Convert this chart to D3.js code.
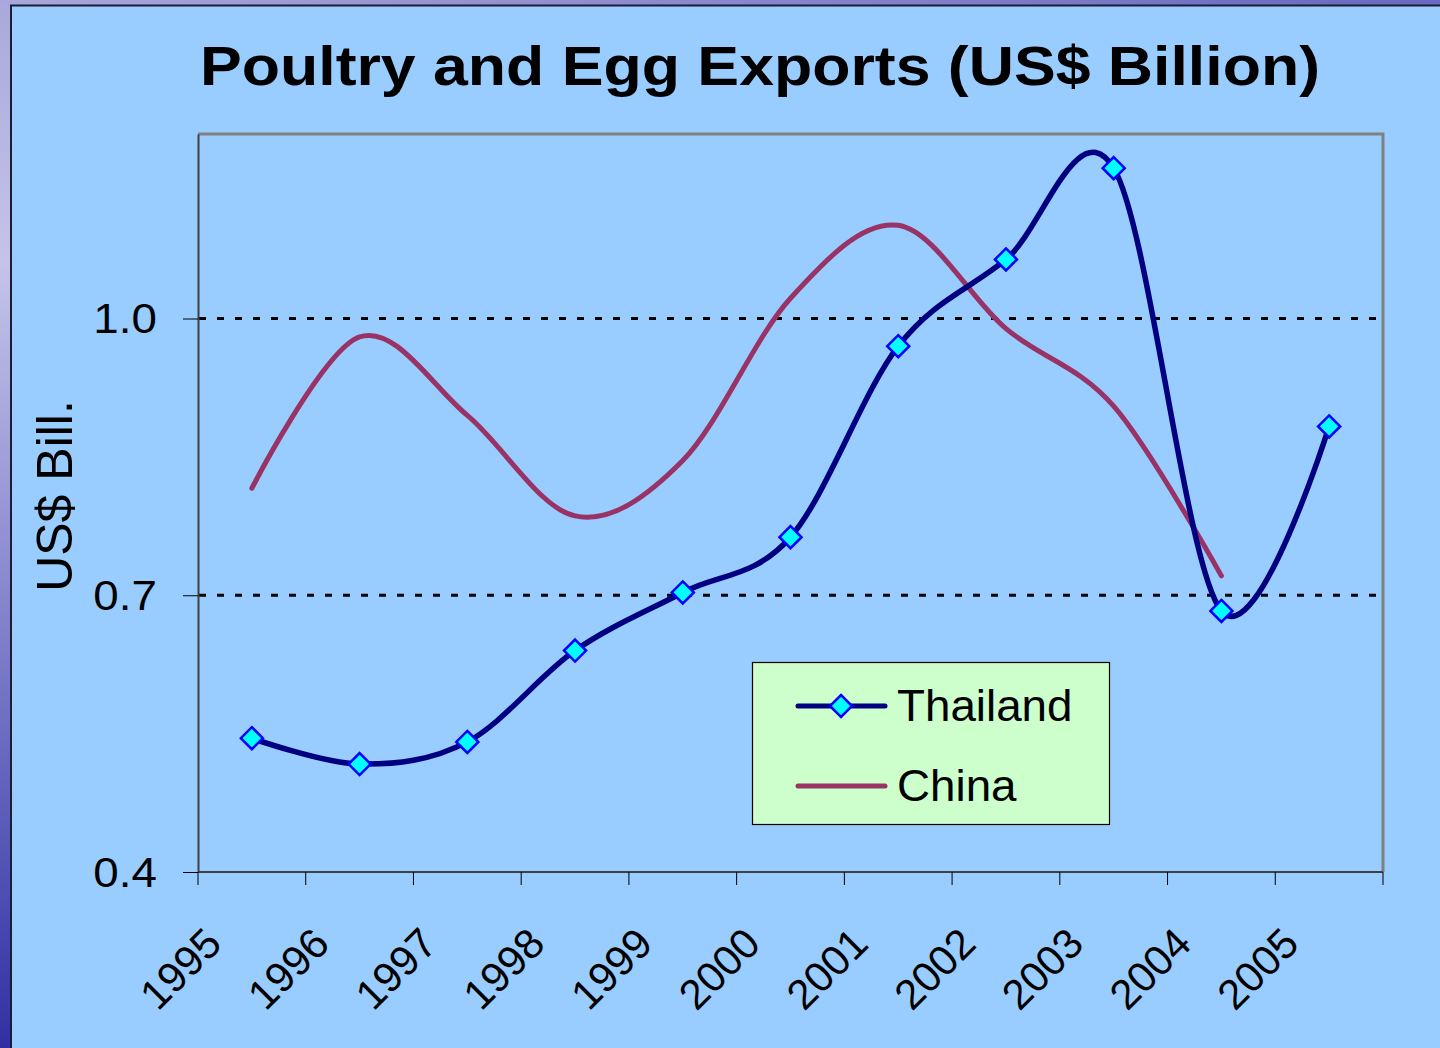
<!DOCTYPE html>
<html>
<head>
  <title>Poultry and Egg Exports</title>
  <script src="https://d3js.org/d3.v7.min.js"></script>
  <style>
    body { margin: 0; background: #99ccff; }
    text { font-family: "Liberation Sans", Arial, sans-serif; fill: #000; }
  </style>
</head>
<body>
<script type="text/javascript">

// ****** DATA ******

  var years = ["1995", "1996", "1997", "1998", "1999", "2000", "2001", "2002", "2003", "2004", "2005"];
  // Thailand exports, US$ billion
  var thailand = [0.545, 0.517, 0.541, 0.640, 0.703, 0.763, 0.970, 1.064, 1.163, 0.683, 0.883];
  // China has no value for 2005
  var china = [0.816, 0.980, 0.895, 0.786, 0.846, 1.022, 1.101, 0.989, 0.905, 0.721];
  var yTicks = [0.4, 0.7, 1.0];
  var seriesNames = ["Thailand", "China"];

// ****** SIZES ******

  var width = 1440,
      height = 1048;
  var plot = { left: 198, right: 1383, top: 134, bottom: 872 };

  var svg = d3.select("body")
    .append("svg")
    .attr("width", width)
    .attr("height", height);

  var defs = svg.append("defs");
  var sideGrad = defs.append("linearGradient")
    .attr("id", "side").attr("x1", 0).attr("y1", 0).attr("x2", 0).attr("y2", 1);
  sideGrad.append("stop").attr("offset", "0%").attr("stop-color", "#a8a8dc");
  sideGrad.append("stop").attr("offset", "25%").attr("stop-color", "#c4c4ea");
  sideGrad.append("stop").attr("offset", "55%").attr("stop-color", "#8a8ad0");
  sideGrad.append("stop").attr("offset", "100%").attr("stop-color", "#3030a4");
  var topGrad = defs.append("linearGradient")
    .attr("id", "topstrip").attr("x1", 0).attr("y1", 0).attr("x2", 1).attr("y2", 0);
  topGrad.append("stop").attr("offset", "0%").attr("stop-color", "#a8a8dc");
  topGrad.append("stop").attr("offset", "100%").attr("stop-color", "#6868c0");

  // slide frame: textured strips on the left and top
  svg.append("rect").attr("width", width).attr("height", height).attr("fill", "url(#side)");
  svg.append("rect").attr("width", width).attr("height", 6).attr("fill", "url(#topstrip)");
  svg.append("rect")
    .attr("x", 11).attr("y", 6)
    .attr("width", width - 11).attr("height", height - 6)
    .attr("fill", "#99ccff");
  svg.append("path")
    .attr("d", "M11," + height + "V5.5H" + width)
    .attr("fill", "none")
    .attr("stroke", "#1c1c34")
    .attr("stroke-width", 2);

// ****** SCALES ******

  var x = d3.scaleBand()
    .domain(years)
    .range([plot.left, plot.right])
    .padding(0);
  var bw = x.bandwidth();
  function cx(i) { return x(years[i]) + bw / 2; }

  var y = d3.scaleLinear()
    .domain([0.4, 1.2])
    .range([plot.bottom, plot.top]);

// ****** TITLE ******

  svg.append("text")
    .attr("x", 760)
    .attr("y", 85)
    .attr("text-anchor", "middle")
    .attr("font-size", 56)
    .attr("font-weight", "bold")
    .attr("textLength", 1120)
    .attr("lengthAdjust", "spacingAndGlyphs")
    .text("Poultry and Egg Exports (US$ Billion)");

// ****** GRID AND FRAME ******

  svg.selectAll(".grid")
    .data([0.7, 1.0])
    .enter()
    .append("line")
    .attr("class", "grid")
    .attr("x1", plot.left + 1).attr("x2", plot.right - 2)
    .attr("y1", function (d) { return y(d); })
    .attr("y2", function (d) { return y(d); })
    .attr("stroke", "#000")
    .attr("stroke-width", 3)
    .attr("stroke-dasharray", "7 11");

  // gray top and right border of the plot area
  svg.append("path")
    .attr("d", "M" + plot.left + "," + plot.top + "H" + plot.right + "V" + plot.bottom)
    .attr("fill", "none")
    .attr("stroke", "#808080")
    .attr("stroke-width", 3);

// ****** AXES ******

  var yAxis = svg.append("g")
    .attr("transform", "translate(" + plot.left + ",0)")
    .call(d3.axisLeft(y).tickValues(yTicks).tickSize(15).tickSizeOuter(0).tickFormat(d3.format(".1f")));
  yAxis.select(".domain").attr("stroke", "#404040").attr("stroke-width", 2);
  yAxis.selectAll(".tick line").attr("stroke", "#000").attr("stroke-width", 1);
  yAxis.selectAll(".tick text")
    .attr("x", null)
    .attr("dy", null)
    .attr("transform", "translate(-41,14) scale(1.09,1)")
    .attr("font-size", 42)
    .attr("font-family", "'Liberation Sans', Arial, sans-serif")
    .attr("fill", "#000");

  // x axis: ticks on category boundaries, labels at the centres
  svg.append("line")
    .attr("x1", plot.left).attr("x2", plot.right)
    .attr("y1", plot.bottom).attr("y2", plot.bottom)
    .attr("stroke", "#404040")
    .attr("stroke-width", 2);

  var edges = years.map(function (d) { return x(d); }).concat([plot.right]);
  svg.selectAll(".xtick")
    .data(edges)
    .enter()
    .append("line")
    .attr("class", "xtick")
    .attr("x1", function (d) { return d; })
    .attr("x2", function (d) { return d; })
    .attr("y1", plot.bottom)
    .attr("y2", plot.bottom + 13)
    .attr("stroke", "#000")
    .attr("stroke-width", 1);

  svg.selectAll(".xlabel")
    .data(years)
    .enter()
    .append("text")
    .attr("class", "xlabel")
    .attr("text-anchor", "end")
    .attr("font-size", 42)
    .attr("transform", function (d, i) {
      return "translate(" + (cx(i) - 28) + "," + (plot.bottom + 74) + ") rotate(-45)";
    })
    .text(function (d) { return d; });

  svg.append("text")
    .attr("transform", "translate(72,496) rotate(-90)")
    .attr("text-anchor", "middle")
    .attr("font-size", 50)
    .text("US$ Bill.");

// ****** LINES ******

  var line = d3.line()
    .x(function (d, i) { return cx(i); })
    .y(function (d) { return y(d); })
    .curve(d3.curveCardinal.tension(0));

  svg.append("path")
    .datum(china)
    .attr("d", line)
    .attr("fill", "none")
    .attr("stroke", "#993366")
    .attr("stroke-width", 5)
    .attr("stroke-linecap", "round")
    .attr("stroke-linejoin", "round");

  svg.append("path")
    .datum(thailand)
    .attr("d", line)
    .attr("fill", "none")
    .attr("stroke", "#000080")
    .attr("stroke-width", 5.5)
    .attr("stroke-linecap", "round")
    .attr("stroke-linejoin", "round");

  var r = 11;
  var diamond = "M0," + (-r) + "L" + r + ",0L0," + r + "L" + (-r) + ",0Z";

  svg.selectAll(".marker")
    .data(thailand)
    .enter()
    .append("path")
    .attr("class", "marker")
    .attr("d", diamond)
    .attr("transform", function (d, i) { return "translate(" + cx(i) + "," + y(d) + ")"; })
    .attr("fill", "#00ffff")
    .attr("stroke", "#0000ff")
    .attr("stroke-width", 2.5);

// ****** LEGEND ******

  var legend = svg.append("g").attr("transform", "translate(752,662)");
  legend.append("rect")
    .attr("x", 0.5).attr("y", 0.5)
    .attr("width", 357).attr("height", 162)
    .attr("fill", "#ccffcc")
    .attr("stroke", "#000")
    .attr("stroke-width", 1.2);

  var legendColors = ["#000080", "#993366"];
  var rows = legend.selectAll(".row")
    .data(seriesNames)
    .enter()
    .append("g")
    .attr("class", "row")
    .attr("transform", function (d, i) { return "translate(0," + (44 + i * 80) + ")"; });

  rows.append("line")
    .attr("x1", 46).attr("x2", 133)
    .attr("stroke", function (d, i) { return legendColors[i]; })
    .attr("stroke-width", 5)
    .attr("stroke-linecap", "round");

  rows.filter(function (d, i) { return i === 0; })
    .append("path")
    .attr("d", diamond)
    .attr("transform", "translate(89,0)")
    .attr("fill", "#00ffff")
    .attr("stroke", "#0000ff")
    .attr("stroke-width", 2.5);

  rows.append("text")
    .attr("transform", "translate(145,15) scale(1.04,1)")
    .attr("font-size", 44)
    .text(function (d) { return d; });

</script>
</body>
</html>
